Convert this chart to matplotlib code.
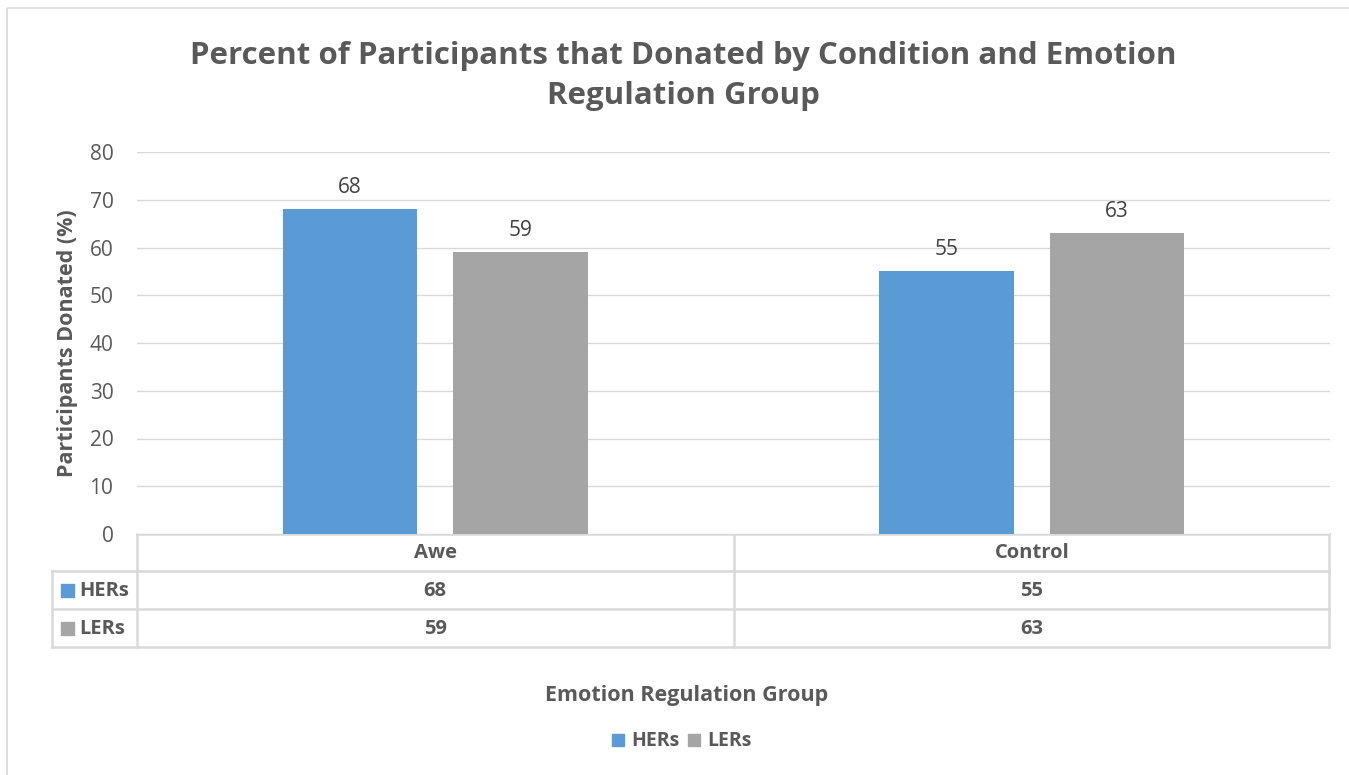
import numpy as np
import matplotlib.pyplot as plt
from matplotlib.patches import Rectangle

plt.rcParams['font.family'] = ['Open Sans', 'DejaVu Sans']

conditions = ["Awe", "Control"]
series_names = ["HERs", "LERs"]
hers = [68, 55]
lers = [59, 63]
series_values = [hers, lers]
colors = ["#5B9BD5", "#A5A5A5"]
yticks = [0, 10, 20, 30, 40, 50, 60, 70, 80]

W, H = 1349, 775
TXT = "#595959"
GRID = "#D9D9D9"

fig = plt.figure(figsize=(W / 100, H / 100), dpi=100)

# overlay axes in pixel coordinates for frame, table and legend
ov = fig.add_axes([0, 0, 1, 1])
ov.set_xlim(0, W)
ov.set_ylim(H, 0)
ov.axis("off")
ov.add_patch(Rectangle((7, 8), W + 20, H + 20, fill=False, ec=GRID, lw=1.2))

# main plot area
x0, x1, ytop, ybot = 137, 1330, 152, 534
ax = fig.add_axes([x0 / W, 1 - ybot / H, (x1 - x0) / W, (ybot - ytop) / H])
ax.set_xlim(0, len(conditions))
ax.set_ylim(0, 80)
ax.set_yticks(yticks)
ax.yaxis.grid(True, color=GRID, lw=1)
ax.set_axisbelow(True)
for s in ax.spines.values():
    s.set_visible(False)
ax.tick_params(axis="y", length=0, pad=17, labelsize=15, labelcolor=TXT)
ax.set_xticks([])
ax.set_ylabel("Participants Donated (%)", fontsize=15.5, fontweight="bold",
              color=TXT, labelpad=8)

xc = np.arange(len(conditions)) + 0.5
bw = 0.225
offsets = [-0.143, 0.143]
for vals, off, c in zip(series_values, offsets, colors):
    bars = ax.bar(xc + off, vals, width=bw, color=c)
    for b, v in zip(bars, vals):
        ax.text(b.get_x() + b.get_width() / 2, v + 2.3, str(v), ha="center",
                va="bottom", fontsize=15, color="#404040")

# data table
tl, tr = 52, 1329
rows = [534, 571, 609, 647]
mid = (x0 + x1) / 2
lw = 1.8
ov.plot([x0, tr], [rows[0], rows[0]], color=GRID, lw=lw)
for y in rows[1:]:
    ov.plot([tl, tr], [y, y], color=GRID, lw=lw)
ov.plot([tl, tl], [rows[1], rows[3]], color=GRID, lw=lw)
for x in [x0, mid, tr]:
    ov.plot([x, x], [rows[0], rows[3]], color=GRID, lw=lw)

cell_centers = [(x0 + mid) / 2, (mid + x1) / 2]
for cx, cond in zip(cell_centers, conditions):
    ov.text(cx, (rows[0] + rows[1]) / 2 + 1, cond, ha="center", va="center",
            fontsize=14.5, fontweight="bold", color=TXT)
for i, (name, vals, c) in enumerate(zip(series_names, series_values, colors)):
    yc = (rows[i + 1] + rows[i + 2]) / 2
    ov.add_patch(Rectangle((61, yc - 6), 13, 13, color=c))
    ov.text(79, yc + 1, name, ha="left", va="center", fontsize=14.5,
            fontweight="bold", color=TXT)
    for cx, v in zip(cell_centers, vals):
        ov.text(cx, yc + 1, str(v), ha="center", va="center", fontsize=14.5,
                fontweight="bold", color=TXT)

# title, axis title, legend
ov.text(683, 76, "Percent of Participants that Donated by Condition and Emotion\nRegulation Group",
        ha="center", va="center", fontsize=22.5, fontweight="bold", color=TXT,
        linespacing=1.45)
ov.text(687, 696, "Emotion Regulation Group", ha="center", va="center",
        fontsize=15.5, fontweight="bold", color=TXT)
lx = [612, 688]
for x, name, c in zip(lx, series_names, colors):
    ov.add_patch(Rectangle((x, 734), 12, 12, color=c))
    ov.text(x + 19, 741, name, ha="left", va="center", fontsize=14,
            fontweight="bold", color=TXT)

fig.savefig("out.png", dpi=100)
